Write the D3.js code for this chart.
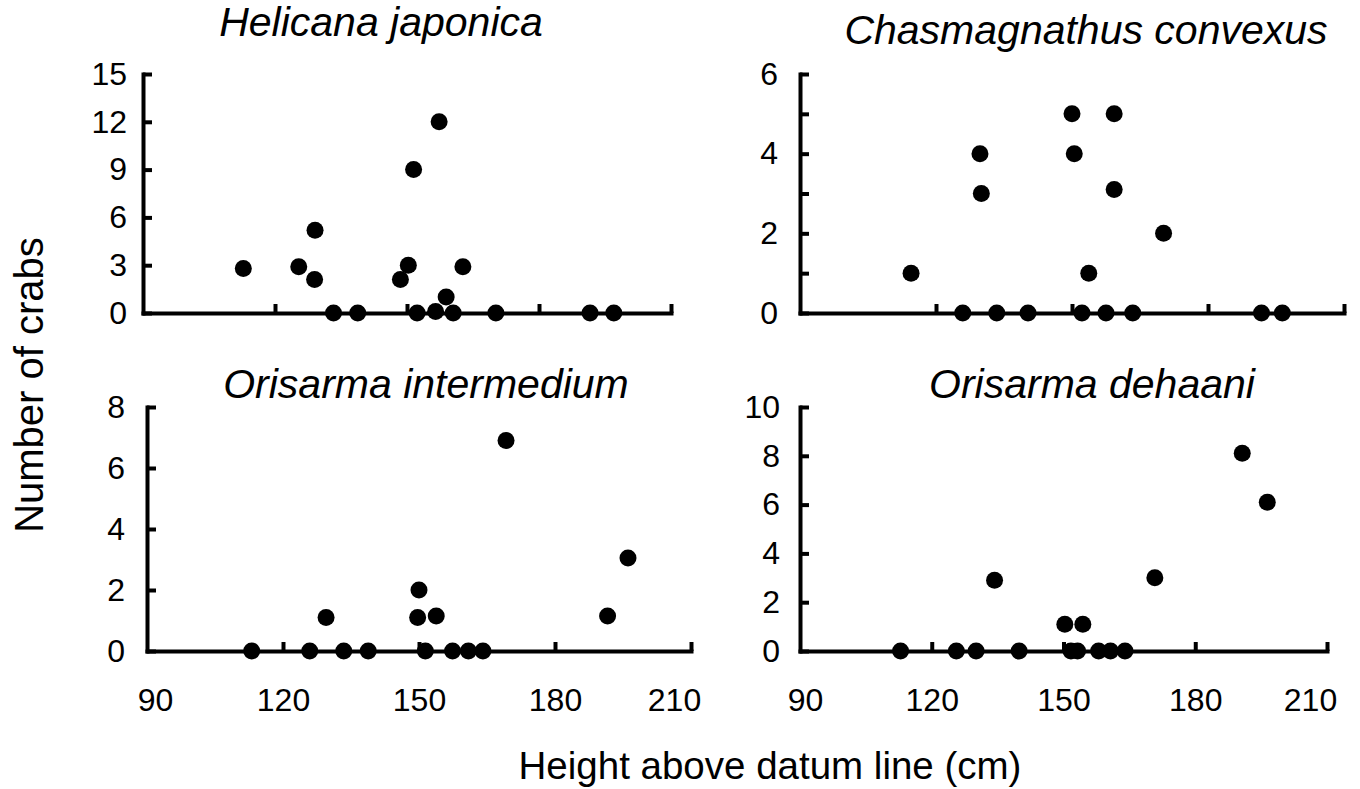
<!DOCTYPE html>
<html>
<head>
<meta charset="utf-8">
<script src="https://cdn.jsdelivr.net/npm/d3@7"></script>
<style>
  html, body { margin: 0; padding: 0; background: #fff; }
  svg { display: block; }
  text { font-family: "Liberation Sans", Arial, sans-serif; fill: #000; }
</style>
</head>
<body>
<svg id="chart" width="1360" height="789"></svg>
<script>
// ---- Data ----
const xTickValues = [90, 120, 150, 180, 210];

// Helicana japonica
const hjX = [112.8, 125.4, 129.1, 129.0, 133.3, 138.8, 148.5, 150.3, 151.5, 157.3, 152.3, 156.5, 158.9, 160.5, 162.7, 170.2, 191.6, 197.0];
const hjY = [2.8, 2.9, 5.2, 2.1, 0, 0, 2.1, 3.0, 9.0, 12.0, 0, 0.1, 1.0, 0, 2.9, 0, 0, 0];
const hjTicks = [0, 3, 6, 9, 12, 15];

// Chasmagnathus convexus
const ccX = [114.5, 125.9, 133.4, 140.3, 129.7, 130.0, 150.0, 150.5, 152.2, 153.7, 157.5, 163.4, 159.3, 159.3, 170.2, 191.8, 196.4];
const ccY = [1.0, 0, 0, 0, 4.0, 3.0, 5.0, 4.0, 0, 1.0, 0, 0, 5.0, 3.1, 2.0, 0, 0];
const ccTicks = [0, 1, 2, 3, 4, 5, 6];
const ccLabels = ["0", "", "2", "", "4", "", "6"];

// Orisarma intermedium
const oiX = [113.1, 125.9, 129.5, 133.4, 138.8, 150.0, 149.7, 153.8, 151.4, 157.4, 160.9, 164.1, 169.2, 191.6, 196.1];
const oiY = [0, 0, 1.1, 0, 0, 2.0, 1.1, 1.15, 0, 0, 0, 0, 6.9, 1.15, 3.05];
const oiTicks = [0, 2, 4, 6, 8];

// Orisarma dehaani
const odX = [112.9, 125.6, 130.1, 139.9, 134.3, 150.3, 154.4, 151.7, 153.2, 158.0, 160.7, 164.0, 170.8, 190.7, 196.4];
const odY = [0, 0, 0, 0, 2.9, 1.1, 1.1, 0, 0, 0, 0, 0, 3.0, 8.1, 6.1];
const odTicks = [0, 2, 4, 6, 8, 10];

const titles = ["Helicana japonica", "Chasmagnathus convexus", "Orisarma intermedium", "Orisarma dehaani"];
const yAxisTitle = "Number of crabs";
const xAxisTitle = "Height above datum line (cm)";

// ---- Layout ----
const svg = d3.select("#chart");
const topRange = [313, 74];
const bottomRange = [651, 407];

const panels = [
  { xs: hjX, ys: hjY, ticks: hjTicks, labels: null, xr: [143, 671], yr: topRange, ypad: 16, title: titles[0], tx: 381, ty: 36, xLabels: false },
  { xs: ccX, ys: ccY, ticks: ccTicks, labels: ccLabels, xr: [800, 1344], yr: topRange, ypad: 22, title: titles[1], tx: 1086, ty: 44, xLabels: false },
  { xs: oiX, ys: oiY, ticks: oiTicks, labels: null, xr: [147, 691], yr: bottomRange, ypad: 22, title: titles[2], tx: 426, ty: 398, xLabels: true, n90: 8 },
  { xs: odX, ys: odY, ticks: odTicks, labels: null, xr: [800, 1327], yr: bottomRange, ypad: 20, title: titles[3], tx: 1092, ty: 398, xLabels: true, n90: 5 }
];

const AXIS_W = 4;
const TICK_FONT = 32;

panels.forEach(p => {
  const x = d3.scaleLinear().domain([90, 210]).range(p.xr);
  const yMax = p.ticks[p.ticks.length - 1];
  const y = d3.scaleLinear().domain([0, yMax]).range(p.yr);
  const g = svg.append("g");

  // x axis
  const xAxis = d3.axisBottom(x)
    .tickValues(xTickValues)
    .tickSizeInner(-9)
    .tickSizeOuter(0)
    .tickPadding(37)
    .tickFormat(p.xLabels ? d3.format("d") : () => "");
  const gx = g.append("g").attr("transform", `translate(0,${p.yr[0]})`).call(xAxis);

  // y axis
  const yAxis = d3.axisLeft(y)
    .tickValues(p.ticks)
    .tickSizeInner(-9)
    .tickSizeOuter(0)
    .tickPadding(p.ypad)
    .tickFormat((d, i) => p.labels ? p.labels[i] : String(d));
  const gy = g.append("g").attr("transform", `translate(${p.xr[0]},0)`).call(yAxis);

  [gx, gy].forEach(a => {
    a.selectAll("path.domain").attr("stroke", "#000").attr("stroke-width", AXIS_W).attr("stroke-linecap", "square");
    a.selectAll(".tick line").attr("stroke", "#000").attr("stroke-width", AXIS_W);
    a.selectAll(".tick text").attr("font-size", TICK_FONT).attr("font-family", '"Liberation Sans", Arial, sans-serif').attr("fill", "#000");
  });
  gx.selectAll(".tick").filter(d => d === 90).select("line").remove();
  if (p.xLabels) {
    gx.selectAll(".tick").filter(d => d === 90).select("text").attr("dx", p.n90);
    gx.selectAll(".tick").filter(d => d === 210).select("text").attr("dx", -17);
  }

  // points
  g.append("g").selectAll("circle")
    .data(p.xs.map((v, i) => [v, p.ys[i]]))
    .join("circle")
    .attr("cx", d => x(d[0]))
    .attr("cy", d => y(d[1]))
    .attr("r", 8.5)
    .attr("fill", "#000");

  // title
  g.append("text")
    .attr("x", p.tx).attr("y", p.ty)
    .attr("text-anchor", "middle")
    .attr("font-size", 41)
    .attr("font-style", "italic")
    .text(p.title);
});

// axis titles
svg.append("text")
  .attr("transform", "translate(43,385) rotate(-90)")
  .attr("text-anchor", "middle")
  .attr("font-size", 40)
  .text(yAxisTitle);

svg.append("text")
  .attr("x", 770).attr("y", 779)
  .attr("text-anchor", "middle")
  .attr("font-size", 38.5)
  .text(xAxisTitle);
</script>
</body>
</html>
